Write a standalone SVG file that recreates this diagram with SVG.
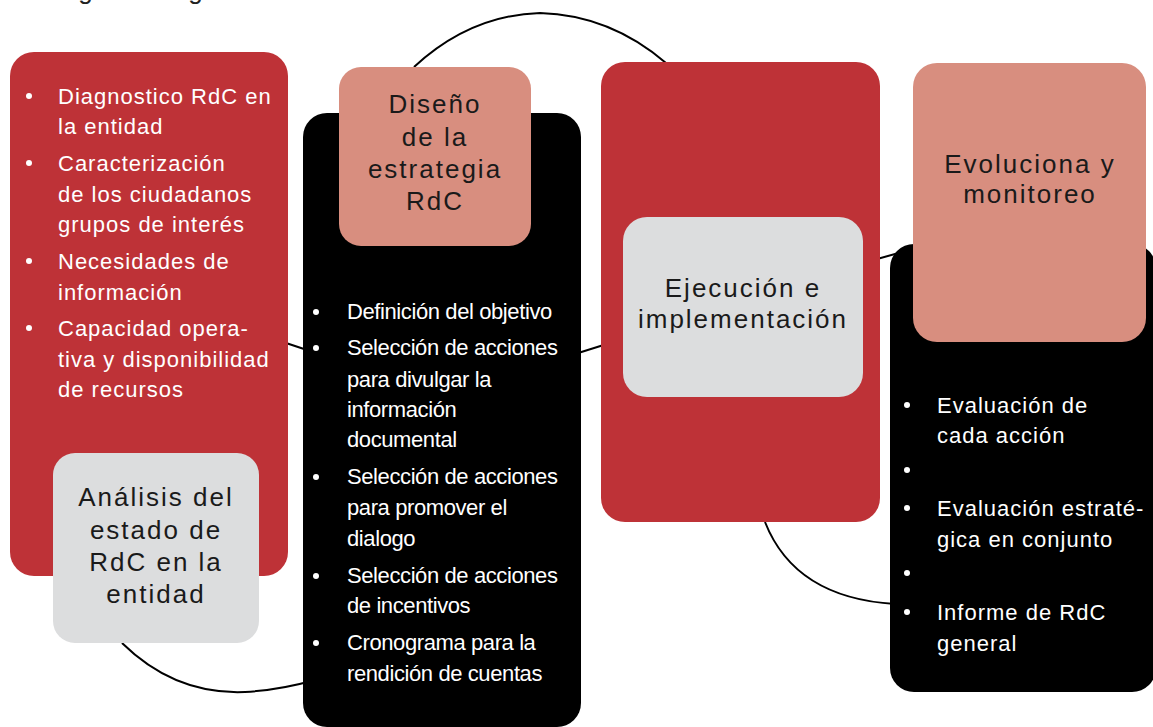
<svg xmlns="http://www.w3.org/2000/svg" width="1153" height="727" viewBox="0 0 1153 727">
<style>
.red{fill:#BE3237}
.blk{fill:#000}
.pink{fill:#D88E7F}
.gray{fill:#DCDDDE}
.conn{fill:none;stroke:#000;stroke-width:2}
.wt{font-family:"Liberation Sans",Arial,sans-serif;font-size:22px;fill:#fff;letter-spacing:1px}
.wc{font-family:"Liberation Sans",Arial,sans-serif;font-size:22px;fill:#fff;letter-spacing:-0.4px}
.hd{font-family:"Liberation Sans",Arial,sans-serif;font-size:26px;fill:#1a1a1a;text-anchor:middle;letter-spacing:2px}
.bul{fill:#fff}
</style>
<rect width="1153" height="727" fill="#fff"/>
<text x="55" y="-1" style="font-family:'Liberation Sans',Arial,sans-serif;font-size:26px;fill:#222;letter-spacing:2.2px">siguiente gráfico</text>
<g id="connectors">
<path class="conn" d="M122,643 Q175,695 245,692 Q280,690 315,680"/>
<path class="conn" d="M280,341 L310,351"/>
<path class="conn" d="M575,354 L610,343"/>
<path class="conn" d="M414,67 Q470,15 540,13 Q610,15 666,63"/>
<path class="conn" d="M870,261 L920,247"/>
<path class="conn" d="M765,522 Q795,598 895,604"/>
</g>
<g id="node-analisis-box">
<rect class="red" x="10" y="52" width="278" height="524" rx="24"/>
<g class="bul"><circle cx="29" cy="96" r="3"/><circle cx="29" cy="163" r="3"/><circle cx="29" cy="261" r="3"/><circle cx="29" cy="328" r="3"/></g>
<text class="wt" x="58" y="104">Diagnostico RdC en</text>
<text class="wt" x="58" y="134">la entidad</text>
<text class="wt" x="58" y="171">Caracterización</text>
<text class="wt" x="58" y="202">de los ciudadanos</text>
<text class="wt" x="58" y="232">grupos de interés</text>
<text class="wt" x="58" y="269">Necesidades de</text>
<text class="wt" x="58" y="300">información</text>
<text class="wt" x="58" y="336">Capacidad opera-</text>
<text class="wt" x="58" y="367">tiva y disponibilidad</text>
<text class="wt" x="58" y="397">de recursos</text>
</g>
<g id="node-analisis">
<rect class="gray" x="53" y="453" width="206" height="190" rx="22"/>
<text class="hd" x="156" y="506">Análisis del</text>
<text class="hd" x="156" y="539">estado de</text>
<text class="hd" x="156" y="571">RdC en la</text>
<text class="hd" x="156" y="603">entidad</text>
</g>
<g id="node-diseno-box">
<rect class="blk" x="303" y="113" width="278" height="614" rx="24"/>
<g class="bul"><circle cx="316" cy="312" r="3"/><circle cx="316" cy="348" r="3"/><circle cx="316" cy="477" r="3"/><circle cx="316" cy="576" r="3"/><circle cx="316" cy="643" r="3"/></g>
<text class="wc" x="347" y="319">Definición del objetivo</text>
<text class="wc" x="347" y="355">Selección de acciones</text>
<text class="wc" x="347" y="387">para divulgar la</text>
<text class="wc" x="347" y="417">información</text>
<text class="wc" x="347" y="447">documental</text>
<text class="wc" x="347" y="484">Selección de acciones</text>
<text class="wc" x="347" y="515">para promover el</text>
<text class="wc" x="347" y="546">dialogo</text>
<text class="wc" x="347" y="583">Selección de acciones</text>
<text class="wc" x="347" y="613">de incentivos</text>
<text class="wc" x="347" y="650">Cronograma para la</text>
<text class="wc" x="347" y="681">rendición de cuentas</text>
</g>
<g id="node-diseno">
<rect class="pink" x="339" y="67" width="192" height="179" rx="22"/>
<text class="hd" x="435" y="113">Diseño</text>
<text class="hd" x="435" y="146">de la</text>
<text class="hd" x="435" y="178">estrategia</text>
<text class="hd" x="435" y="210">RdC</text>
</g>
<g id="node-ejecucion-box">
<rect class="red" x="601" y="62" width="279" height="460" rx="24"/>
</g>
<g id="node-ejecucion">
<rect class="gray" x="623" y="217" width="240" height="180" rx="24"/>
<text class="hd" x="743" y="297">Ejecución e</text>
<text class="hd" x="743" y="328">implementación</text>
</g>
<g id="node-evoluciona-box">
<rect class="blk" x="890" y="244" width="266" height="448" rx="24"/>
<g class="bul"><circle cx="907" cy="405" r="3"/><circle cx="907" cy="470" r="3"/><circle cx="907" cy="508" r="3"/><circle cx="907" cy="573" r="3"/><circle cx="907" cy="612" r="3"/></g>
<text class="wt" x="937" y="413">Evaluación de</text>
<text class="wt" x="937" y="443">cada acción</text>
<text class="wt" x="937" y="516">Evaluación estraté-</text>
<text class="wt" x="937" y="547">gica en conjunto</text>
<text class="wt" x="937" y="620">Informe de RdC</text>
<text class="wt" x="937" y="651">general</text>
</g>
<g id="node-evoluciona">
<rect class="pink" x="913" y="63" width="233" height="279" rx="24"/>
<text class="hd" x="1030" y="173">Evoluciona y</text>
<text class="hd" x="1030" y="203">monitoreo</text>
</g>
</svg>
